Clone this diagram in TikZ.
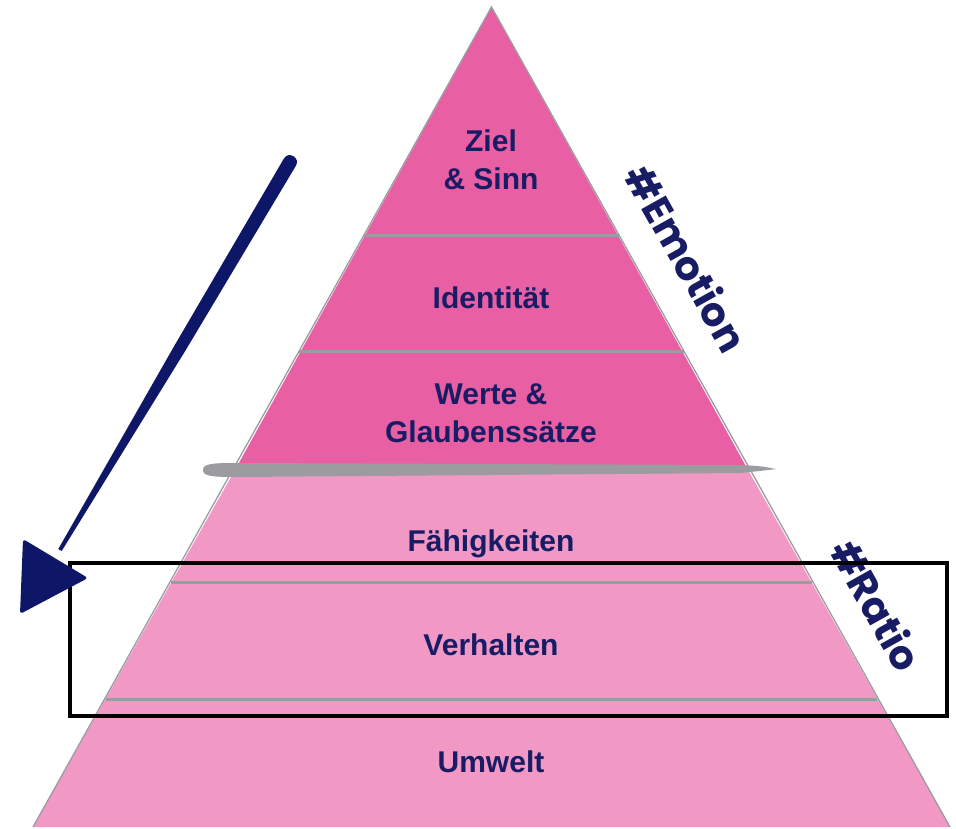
\documentclass[tikz,border=0pt]{standalone}
\usepackage{fontspec}
\setmainfont{Liberation Sans}
\newfontfamily\hashfont{Poppins}
\definecolor{pinkdark}{RGB}{233,95,163}
\definecolor{pinklight}{RGB}{241,152,196}
\definecolor{navytext}{RGB}{24,28,100}
\definecolor{navyarrow}{RGB}{14,22,104}
\definecolor{layerline}{RGB}{155,155,160}
\tikzset{
  lbl/.style={text=navytext, font=\fontsize{30}{38}\selectfont\bfseries, align=center, inner sep=0pt},
  hashlbl/.style={text=navytext, font=\hashfont\fontsize{40}{40}\selectfont\bfseries, rotate=-60.8, inner sep=0pt},
  sep/.style={draw=layerline, line width=3pt},
}
\begin{document}
\begin{tikzpicture}[x=1pt,y=-1pt]
\useasboundingbox (0,0) rectangle (956,829);
% pyramid coordinates
\coordinate (apex) at (491.5,7);
\coordinate (mL) at (235,470);
\coordinate (mR) at (748,470);
\coordinate (bL) at (33,827);
\coordinate (bR) at (950,827);
% fills
\fill[pinkdark] (apex) -- (mR) -- (mL) -- cycle;
\fill[pinklight] (mL) -- (mR) -- (bR) -- (bL) -- cycle;
\draw[layerline, line width=1.3pt] (bL) -- (apex) -- (bR);
% layer separators
\coordinate (s1L) at (364,236); \coordinate (s1R) at (619,236);
\coordinate (s2L) at (299,351); \coordinate (s2R) at (684,351);
\coordinate (s3L) at (171,582); \coordinate (s3R) at (812,582);
\coordinate (s4L) at (106,699); \coordinate (s4R) at (877,699);
\draw[sep] (s1L) -- (s1R);
\draw[sep] (s2L) -- (s2R);
\draw[sep] (s3L) -- (s3R);
\draw[sep] (s4L) -- (s4R);
% brush band
\fill[layerline] (203,470) .. controls (203,463) and (215,463) .. (240,463)
  -- (740,465) .. controls (760,466) .. (776,469) .. controls (760,471) .. (740,473)
  -- (240,477) .. controls (215,477) and (203,477) .. (203,470) -- cycle;
% labels
\node[lbl] (ziel) at (491,160) {Ziel\\\& Sinn};
\node[lbl, anchor=base] (ident) at (491,308) {Identität};
\node[lbl] (werte) at (491,413) {Werte \&\\Glaubenssätze};
\node[lbl, anchor=base] (faeh) at (491,551) {Fähigkeiten};
\node[lbl, anchor=base] (verh) at (491,655) {Verhalten};
\node[lbl, anchor=base] (umw) at (491,772) {Umwelt};
\node[hashlbl] (emo) at (687,258) {\#Emotion};
\node[hashlbl] (ratio) at (877,605) {\#Ratio};
% highlight box
\draw[black, line width=4pt] (70,563) rectangle (947,716);
% brush arrow
\fill[navyarrow] (284,158.4) .. controls (288.6,150.7) and (300.6,157.9) .. (296,165.6)
  -- (185.2,351) -- (61.7,551) -- (58.3,549) -- (174.8,345) -- cycle;
\fill[navyarrow, rounded corners=3pt] (23,539) -- (88,578) -- (20,614) -- cycle;
\end{tikzpicture}
\end{document}
